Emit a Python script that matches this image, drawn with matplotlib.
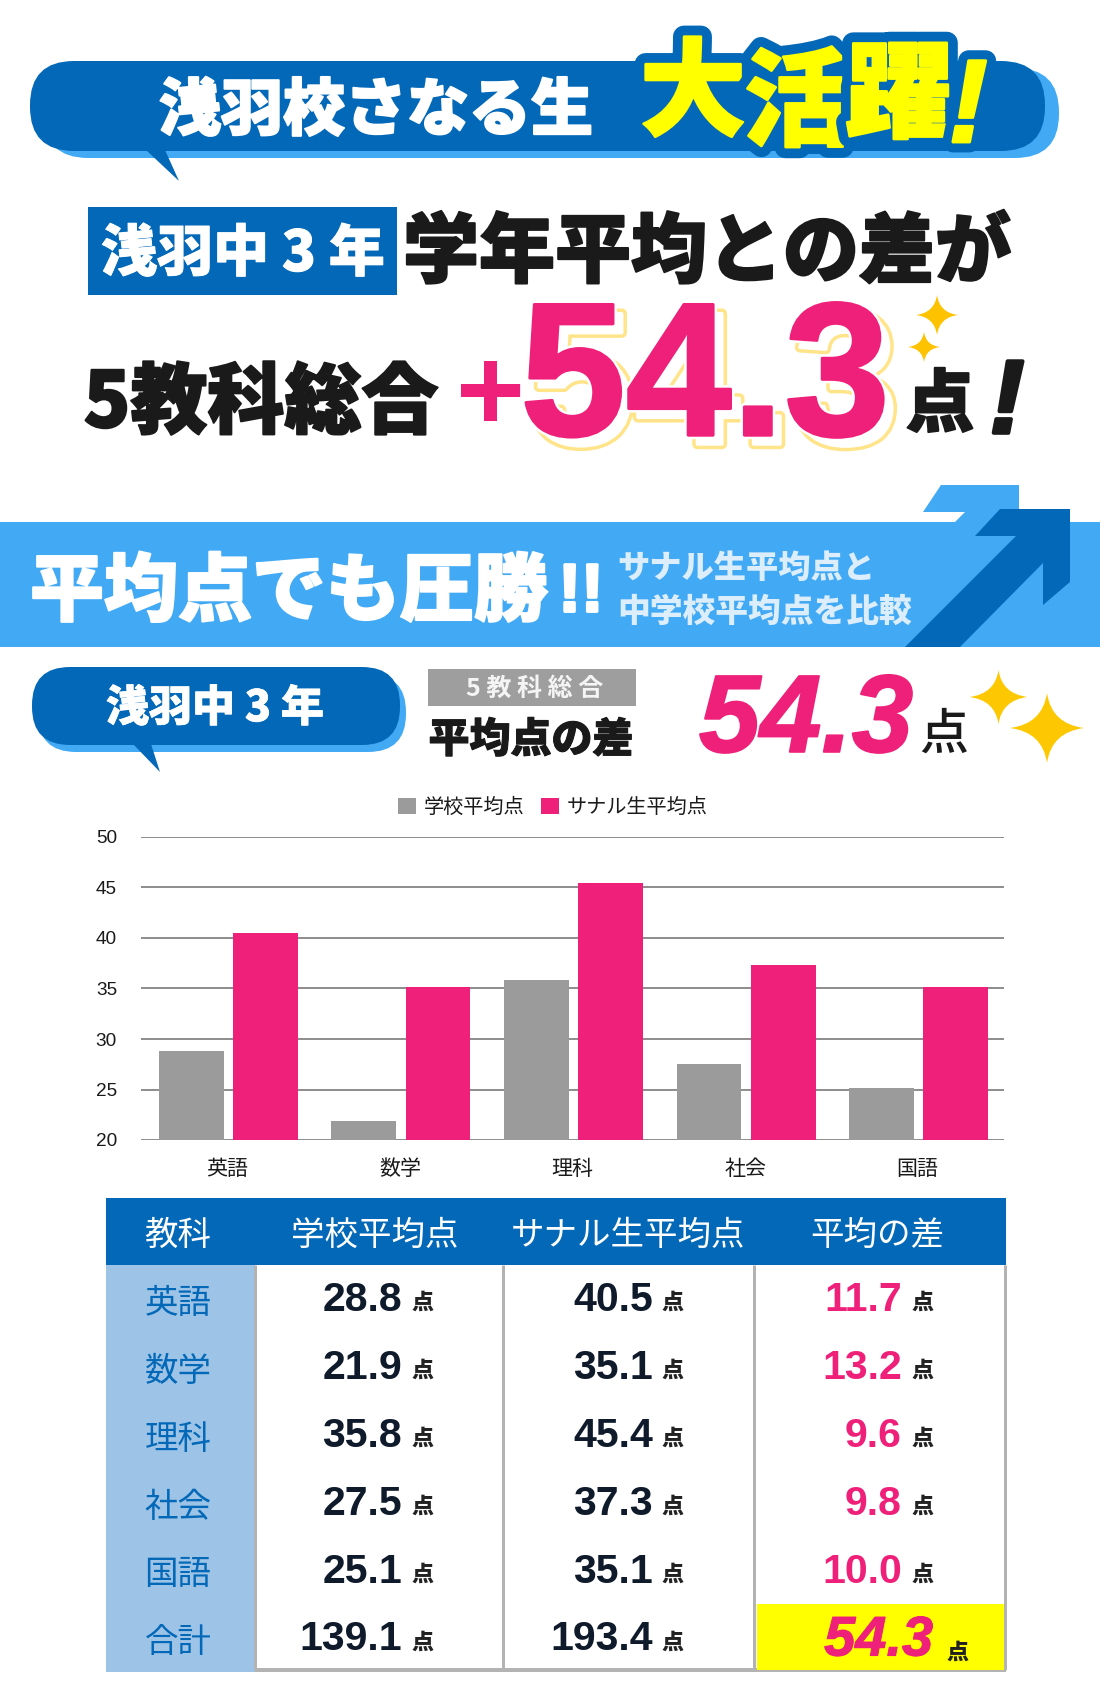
import matplotlib
matplotlib.use("Agg")
import matplotlib.pyplot as plt
import matplotlib.patheffects as pe
from matplotlib.patches import FancyBboxPatch, Polygon, Rectangle, PathPatch
from matplotlib.path import Path
import numpy as np

# ---------- data ----------
subjects = ["英語", "数学", "理科", "社会", "国語"]
school_avg = [28.8, 21.9, 35.8, 27.5, 25.1]
sanaru_avg = [40.5, 35.1, 45.4, 37.3, 35.1]
avg_diff = [11.7, 13.2, 9.6, 9.8, 10.0]
total_label = "合計"
total_school = 139.1
total_sanaru = 193.4
total_diff = 54.3
series_names = ["学校平均点", "サナル生平均点"]
table_headers = ["教科", "学校平均点", "サナル生平均点", "平均の差"]
y_ticks = [20, 25, 30, 35, 40, 45, 50]

# ---------- style ----------
W, H = 1100, 1698
DPI = 100
BLUE = "#0268b7"
LIGHT = "#42a9f5"
PINK = "#ef2079"
GRAY = "#9b9b9b"
INK = "#1a1a1a"
NAVY = "#0f1a2b"
GOLD = "#fdc301"
CJK = "Noto Sans CJK JP"
LAT = "Liberation Sans"
plt.rcParams["font.family"] = [CJK, "DejaVu Sans"]


def pt(px):
    return px * 72 / DPI


fig = plt.figure(figsize=(W / DPI, H / DPI), dpi=DPI, facecolor="white")
bg = fig.add_axes([0, 0, 1, 1], zorder=0)
bg.set_xlim(0, W)
bg.set_ylim(H, 0)
bg.axis("off")


def T(x, y, s, size, color=INK, fam=CJK, weight="black", ha="center", style="normal",
      strokes=None, rot=0, z=5):
    # y is the wanted centre of the glyphs; text boxes sit a little high, hence the shift
    t = bg.text(x, y + size * 0.08, s, fontsize=pt(size), color=color, family=[fam, "DejaVu Sans"],
                weight=weight, ha=ha, va="center", style=style, rotation=rot, zorder=z)
    if strokes:
        t.set_path_effects([pe.Stroke(linewidth=pt(w), foreground=c) for w, c in strokes] + [pe.Normal()])
    return t


def bubble(x0, y0, x1, y1, r, dx, dy, tail):
    for ox, oy, c, z in [(dx, dy, LIGHT, 1), (0, 0, BLUE, 2)]:
        bg.add_patch(FancyBboxPatch((x0 + r + ox, y0 + r + oy), x1 - x0 - 2 * r, y1 - y0 - 2 * r,
                                    boxstyle=f"round,pad={r},rounding_size={r}", fc=c, ec="none", zorder=z))
    bg.add_patch(Polygon(tail, closed=True, fc=BLUE, ec="none", zorder=2))


def sparkle(cx, cy, rx, ry, color=GOLD):
    k = 0.12
    v = [(cx, cy - ry), (cx + rx * k, cy - ry * k), (cx + rx, cy), (cx + rx * k, cy + ry * k),
         (cx, cy + ry), (cx - rx * k, cy + ry * k), (cx - rx, cy), (cx - rx * k, cy - ry * k), (cx, cy - ry)]
    c = [Path.MOVETO] + [Path.CURVE3, Path.CURVE3] * 4
    bg.add_patch(PathPatch(Path(v, c), fc=color, ec="none", zorder=6))


# ---------- top headline ----------
bubble(30, 61, 1045, 151, 44, 14, 7, [(146, 150), (179, 181), (165, 150)])
T(376, 107, "浅羽校さなる生", 62, "white", strokes=[(2, "white")])
YEL = "#ffff00"
hl = [("大", 693, 87), ("活", 797, 97), ("躍", 899, 89)]
for s, x, y in hl:
    T(x, y, s, 106, YEL, strokes=[(22, BLUE), (2.5, YEL)], z=5)
T(968, 102, "!", 118, YEL, fam=LAT, weight="bold", style="italic", strokes=[(21, BLUE), (3, YEL)], z=5)

bg.add_patch(Rectangle((88, 207), 309, 88, fc=BLUE, ec="none", zorder=2))
T(243, 250, "浅羽中 3 年", 56, "white", strokes=[(1, "white")])
T(707, 248, "学年平均との差が", 76, INK, strokes=[(2, INK)])

T(261, 398, "5教科総合", 77, INK, strokes=[(2, INK)])
T(490, 390, "+", 118, PINK, fam=LAT, weight="bold")
T(714, 380, f"{total_diff:.1f}", 190, "white", fam=LAT, weight="bold", strokes=[(10, "#ffe48a"), (3, "white")], z=4)
T(705, 371, f"{total_diff:.1f}", 190, PINK, fam=LAT, weight="bold", strokes=[(8, "white"), (3, PINK)], z=5)
T(940, 400, "点", 68, INK, strokes=[(2, INK)])
T(1007, 398, "!", 104, INK, fam=LAT, weight="bold", style="italic", strokes=[(4, INK)])
sparkle(937, 315, 21, 20)
sparkle(924, 347, 16, 15)

# ---------- band ----------
bg.add_patch(Rectangle((0, 522), W, 125, fc=LIGHT, ec="none", zorder=1))
bg.add_patch(Polygon([(941, 485), (1019, 485), (1019, 525), (952, 525), (965, 512), (923, 512)],
                     closed=True, fc=LIGHT, ec="none", zorder=1))
bg.add_patch(Polygon([(1000, 509), (1070, 509), (1070, 582), (1043, 605), (1043, 563), (960, 647),
                      (905, 647), (1016, 536), (975, 536)], closed=True, fc=BLUE, ec="none", zorder=2))
T(30, 587, "平均点でも圧勝", 74, "white", ha="left", strokes=[(2, "white")])
T(581, 588, "!!", 68, "white", fam=LAT, weight="bold", strokes=[(3, "white")])
T(617, 566, "サナル生平均点と", 32.3, "#dcedfb", ha="left")
T(617, 609, "中学校平均点を比較", 32.8, "#dcedfb", ha="left")

# ---------- second heading ----------
bubble(32, 667, 400, 745, 38, 6, 7, [(133, 744), (160, 772), (151, 744)])
T(215, 705, "浅羽中 3 年", 43, "white", strokes=[(0.8, "white")])
bg.add_patch(Rectangle((428, 669), 208, 37, fc="#9e9e9e", ec="none", zorder=2))
T(535, 687, "5 教 科 総 合", 25, "#f4f4f4", weight="bold")
T(531, 737, "平均点の差", 41, INK, strokes=[(1, INK)])
T(806, 715, f"{total_diff:.1f}", 110, PINK, fam=LAT, weight="bold", style="italic", strokes=[(2, PINK)])
T(944, 731, "点", 49, INK, weight="medium")
sparkle(998.5, 697, 29, 27, "#fdc801")
sparkle(1047, 728, 37, 35, "#fdc801")

# ---------- chart ----------
L, R, TOP, BOT = 141, 1004, 837, 1140
ax = fig.add_axes([L / W, 1 - BOT / H, (R - L) / W, (BOT - TOP) / H], zorder=2)
ax.patch.set_alpha(0)
xs = np.arange(len(subjects))
bw = 0.375
off = 0.215
nudge = 0.006
ax.bar(xs - off + nudge, school_avg, bw, color=GRAY, zorder=3, label=series_names[0])
ax.bar(xs + off + nudge, sanaru_avg, bw, color=PINK, zorder=3, label=series_names[1])
ax.set_xlim(-0.5, len(subjects) - 0.5)
ax.set_ylim(20, 50)
ax.set_yticks(y_ticks)
ax.set_yticklabels([str(v) for v in y_ticks], fontsize=pt(19), family=[LAT, "DejaVu Sans"], color=INK)
ax.set_xticks(xs)
ax.set_xticklabels(subjects, fontsize=pt(21), color=INK)
ax.tick_params(axis="y", length=0, pad=pt(24))
ax.tick_params(axis="x", length=0, pad=pt(18))
ax.grid(axis="y", color="#8f8f8f", lw=pt(2), zorder=1)
ax.set_axisbelow(True)
for s in ax.spines.values():
    s.set_visible(False)
handles, labels = ax.get_legend_handles_labels()
fig.legend(handles, labels, loc="center", bbox_to_anchor=(553 / W, 1 - 807.5 / H), ncol=2, frameon=False,
           fontsize=pt(20.2), labelcolor=INK, handlelength=0.85, handleheight=0.85, handletextpad=0.4,
           columnspacing=0.85, borderpad=0)

# ---------- table ----------
TL, TR = 106, 1006
HT, HB = 1198, 1265
TB = 1672
COLS = [255, 503, 754, 1005]
RH = (TB - HB) / 6
bg.add_patch(Rectangle((TL, HT), TR - TL, HB - HT, fc=BLUE, ec="none", zorder=2))
bg.add_patch(Rectangle((TL, HB), COLS[0] - TL, TB - HB, fc="#9dc3e6", ec="none", zorder=2))
for x in COLS:
    bg.plot([x, x], [HB, TB - 2], color="#b3b3b3", lw=pt(3), zorder=3, solid_capstyle="butt")
bg.plot([COLS[0], TR], [TB - 2, TB - 2], color="#b3b3b3", lw=pt(4), zorder=3, solid_capstyle="butt")
bg.add_patch(Rectangle((757, HB + 5 * RH - 0.5), 246.5, 66, fc=YEL, ec="none", zorder=3))

head_x = [178, 375, 628, 877]
for x, s in zip(head_x, table_headers):
    T(x, 1233, s, 33.5, "white", weight="regular")

rows = list(zip(subjects + [total_label], school_avg + [total_school], sanaru_avg + [total_sanaru],
                avg_diff + [total_diff]))
for i, (name, a, b, d) in enumerate(rows):
    yc = HB + RH * (i + 0.5)
    T(178, yc + 2, name, 33.5, BLUE, weight="regular")
    T(402, yc - 2, f"{a:.1f}", 41, NAVY, fam=LAT, weight="bold", ha="right")
    T(423, yc + 2, "点", 22, "#222222")
    T(653, yc - 2, f"{b:.1f}", 41, NAVY, fam=LAT, weight="bold", ha="right")
    T(673, yc + 2, "点", 22, "#222222")
    if i < 5:
        T(902, yc - 2, f"{d:.1f}", 41, PINK, fam=LAT, weight="bold", ha="right")
        T(923, yc + 2, "点", 22, "#222222")
    else:
        T(933, yc - 1, f"{d:.1f}", 56, PINK, fam=LAT, weight="bold", style="italic", ha="right",
          strokes=[(1, PINK)])
        T(958, yc + 12, "点", 22, "#222222")

fig.savefig("out.png", dpi=DPI, facecolor="white")
